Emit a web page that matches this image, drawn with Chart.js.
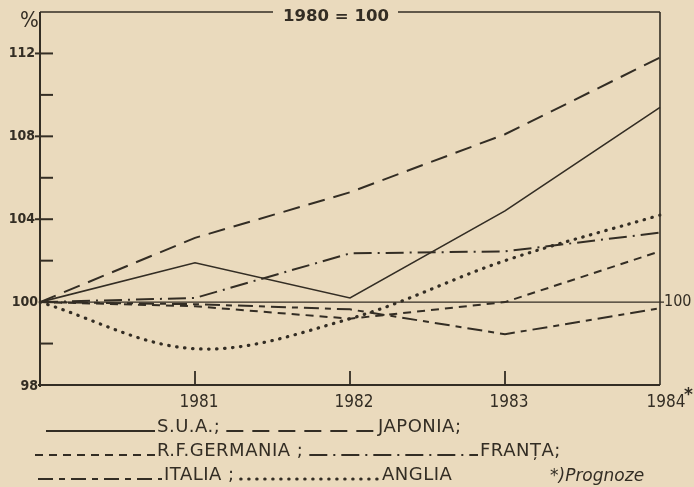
<!DOCTYPE html>
<html>
<head>
<meta charset="utf-8">
<script src="https://cdn.jsdelivr.net/npm/chart.js@4/dist/chart.umd.min.js"></script>
<style>
  html, body { margin: 0; padding: 0; background: #eadabd; }
  #wrap { position: relative; width: 694px; height: 487px; }
</style>
</head>
<body>
<div id="wrap"><canvas id="c" width="694" height="487"></canvas></div>
<script>
// ---- data ----
const years = ['1980', '1981', '1982', '1983', '1984'];
const xTickLabels = ['', '1981', '1982', '1983', '1984'];
const sua      = [100, 101.9, 100.2, 104.4, 109.4];
const japonia  = [100, 103.1, 105.3, 108.1, 111.8];
const germania = [100, 99.8, 99.2, 100.0, 102.45];
const franta   = [100, 100.2, 102.35, 102.45, 103.35];
const italia   = [100, 99.9, 99.65, 98.45, 99.7];
const anglia   = [100, 97.75, 99.2, 102.0, 104.2];
const yMajorTicks = [100, 104, 108, 112];
const yMajorLabels = ['100', '104', '108', '112'];
const yMinorTicks = [98, 102, 106, 110];
const yBottomValue = 96;
const yBottomLabel = '98';
const titleText = '1980 = 100';
const seriesNames = ['S.U.A.;', 'JAPONIA;', 'R.F.GERMANIA ;', 'FRANȚA;', 'ITALIA ;', 'ANGLIA'];
const noteText = '*)Prognoze';

const INK = '#332d24';

const dashes = {
  sua: [],
  japonia: [17, 9],
  germania: [8, 6],
  franta: [18, 6, 2, 6],
  italia: [15, 6, 6, 6],
  anglia: [0.5, 7.5]
};

function ds(label, data, dash, width, tension, cap) {
  return {
    label, data,
    borderColor: INK,
    borderWidth: width,
    borderDash: dash,
    borderCapStyle: cap || 'butt',
    tension: tension || 0,
    pointRadius: 0,
    fill: false
  };
}

function fitText(ctx, text, x, y, w) {
  const m = ctx.measureText(text).width;
  ctx.save();
  ctx.translate(x, y);
  ctx.scale(w / m, 1);
  ctx.textAlign = 'left';
  ctx.fillText(text, 0, 0);
  ctx.restore();
}

const framePlugin = {
  id: 'frame',
  beforeDatasetsDraw(chart) {
    const ctx = chart.ctx;
    const a = chart.chartArea;
    const ys = chart.scales.y;
    const xs = chart.scales.x;
    ctx.save();
    ctx.strokeStyle = INK;
    ctx.lineWidth = 2;
    ctx.setLineDash([]);
    ctx.beginPath(); ctx.moveTo(a.left, a.top); ctx.lineTo(a.left, a.bottom + 2); ctx.stroke();
    ctx.beginPath(); ctx.moveTo(a.left - 2, a.bottom); ctx.lineTo(a.right, a.bottom); ctx.stroke();
    ctx.lineWidth = 1.6;
    ctx.beginPath(); ctx.moveTo(a.right, a.top); ctx.lineTo(a.right, a.bottom); ctx.stroke();
    ctx.beginPath(); ctx.moveTo(a.left, a.top); ctx.lineTo(273, a.top); ctx.stroke();
    ctx.beginPath(); ctx.moveTo(398, a.top); ctx.lineTo(a.right, a.top); ctx.stroke();
    const y100 = ys.getPixelForValue(100);
    ctx.lineWidth = 1.4;
    ctx.beginPath(); ctx.moveTo(a.left, y100); ctx.lineTo(a.right + 4, y100); ctx.stroke();
    ctx.lineWidth = 2;
    yMajorTicks.forEach(v => {
      if (v === 100) return;
      const y = ys.getPixelForValue(v);
      ctx.beginPath(); ctx.moveTo(a.left - 5, y); ctx.lineTo(a.left + 13, y); ctx.stroke();
    });
    yMinorTicks.forEach(v => {
      const y = ys.getPixelForValue(v);
      ctx.beginPath(); ctx.moveTo(a.left, y); ctx.lineTo(a.left + 13, y); ctx.stroke();
    });
    ctx.lineWidth = 1.8;
    for (let i = 1; i < years.length - 1; i++) {
      const x = xs.getPixelForValue(i);
      ctx.beginPath(); ctx.moveTo(x, a.bottom); ctx.lineTo(x, a.bottom - 14); ctx.stroke();
    }
    ctx.restore();
  },
  afterDraw(chart) {
    const ctx = chart.ctx;
    const a = chart.chartArea;
    const ys = chart.scales.y;
    const xs = chart.scales.x;
    ctx.save();
    ctx.fillStyle = INK;
    ctx.font = 'bold 14px "DejaVu Sans Condensed", "DejaVu Sans", sans-serif';
    ctx.textAlign = 'right';
    ctx.textBaseline = 'middle';
    yMajorTicks.forEach((v, i) => {
      ctx.fillText(yMajorLabels[i], v === 100 ? 38 : 35, ys.getPixelForValue(v));
    });
    ctx.fillText(yBottomLabel, 38, ys.getPixelForValue(yBottomValue) + 1);
    ctx.font = '22px "DejaVu Sans Condensed", "DejaVu Sans", sans-serif';
    ctx.textAlign = 'left';
    ctx.fillText('%', 20, 21);
    ctx.font = '16px "DejaVu Sans Condensed", "DejaVu Sans", sans-serif';
    ctx.fillText('100', a.right + 4, ys.getPixelForValue(100));
    ctx.font = '17px "DejaVu Sans Condensed", "DejaVu Sans", sans-serif';
    ctx.textAlign = 'center';
    for (let i = 1; i < years.length; i++) {
      const x = xs.getPixelForValue(i) + (i === years.length - 1 ? 6 : 4);
      ctx.fillText(xTickLabels[i], x, 403);
    }
    ctx.font = 'bold 17px "DejaVu Sans", sans-serif';
    ctx.textAlign = 'left';
    ctx.fillText('*', xs.getPixelForValue(years.length - 1) + 24, 396);
    ctx.font = 'bold 15px "DejaVu Sans Condensed", "DejaVu Sans", sans-serif';
    ctx.textBaseline = 'middle';
    fitText(ctx, titleText, 283, 17, 106);

    // legend: each row = sequence of (line, text); line starts where the previous text ends
    const rows = [
      { y: 431, x: 46, items: [
        { x1: 155, dash: dashes.sua, text: seriesNames[0] },
        { x1: 376, dash: dashes.japonia, text: seriesNames[1] } ] },
      { y: 455, x: 35, items: [
        { x1: 155, dash: dashes.germania, text: seriesNames[2] },
        { x1: 478, dash: dashes.franta, text: seriesNames[3] } ] },
      { y: 479, x: 38, items: [
        { x1: 162, dash: dashes.italia, text: seriesNames[4] },
        { x1: 380, dash: dashes.anglia, text: seriesNames[5], dot: true } ] }
    ];
    ctx.font = '18px "DejaVu Sans", sans-serif';
    ctx.letterSpacing = '0.5px';
    ctx.textBaseline = 'alphabetic';
    ctx.textAlign = 'left';
    rows.forEach(r => {
      let x0 = r.x;
      r.items.forEach(it => {
        ctx.strokeStyle = INK;
        ctx.lineWidth = it.dot ? 3 : 2;
        ctx.lineCap = it.dot ? 'round' : 'butt';
        ctx.setLineDash(it.dash);
        ctx.beginPath(); ctx.moveTo(x0, r.y); ctx.lineTo(it.x1, r.y); ctx.stroke();
        ctx.setLineDash([]);
        const tx = it.x1 + 2;
        ctx.fillText(it.text, tx, r.y + 1);
        x0 = tx + ctx.measureText(it.text).width + 6;
      });
    });
    ctx.letterSpacing = '0px';
    ctx.font = 'italic 17px "DejaVu Sans", sans-serif';
    ctx.fillText(noteText, 550, 481);
    ctx.restore();
  }
};

new Chart(document.getElementById('c'), {
  type: 'line',
  data: {
    labels: years,
    datasets: [
      ds('S.U.A.', sua, dashes.sua, 1.6),
      ds('JAPONIA', japonia, dashes.japonia, 2),
      ds('R.F.GERMANIA', germania, dashes.germania, 2),
      ds('FRANȚA', franta, dashes.franta, 2),
      ds('ITALIA', italia, dashes.italia, 2),
      ds('ANGLIA', anglia, dashes.anglia, 3.2, 0.35, 'round')
    ]
  },
  options: {
    responsive: false,
    animation: false,
    layout: { padding: { left: 40, right: 34, top: 12, bottom: 102 } },
    plugins: { legend: { display: false }, tooltip: { enabled: false }, title: { display: false } },
    scales: {
      x: { type: 'category', offset: false, display: false },
      y: { type: 'linear', min: 96, max: 114, display: false }
    }
  },
  plugins: [framePlugin]
});
</script>
</body>
</html>
